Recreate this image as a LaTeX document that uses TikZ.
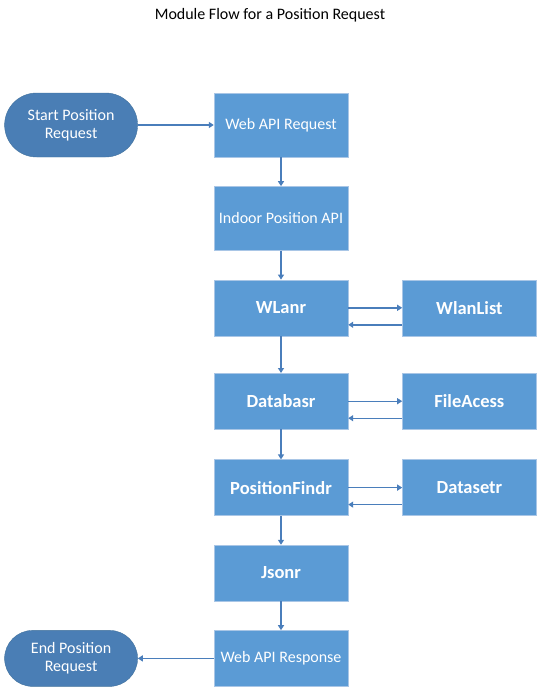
\documentclass[tikz,border=0pt]{standalone}
\usepackage{fontspec}
\setmainfont{Carlito}
\usetikzlibrary{arrows.meta,positioning}
\definecolor{boxfill}{HTML}{5B9BD5}
\definecolor{boxedge}{HTML}{A9C6E6}
\definecolor{termfill}{HTML}{4A7EB5}
\definecolor{termedge}{HTML}{41719C}
\definecolor{flowc}{HTML}{4A7EBB}

\begin{document}
\begin{tikzpicture}[
  x=1pt, y=1pt, node distance=29pt,
  mod/.style={draw=boxedge, fill=boxfill, text=white, minimum width=134pt, minimum height=56pt, align=center, font=\fontsize{16}{18}\selectfont, inner sep=2pt},
  tall/.style={mod, minimum height=64pt},
  strong/.style={mod, font=\fontsize{18.5}{21}\selectfont\bfseries},
  term/.style={draw=termedge, fill=termfill, text=white, minimum width=133pt, minimum height=56pt, rounded corners=28pt, align=center, font=\fontsize{16}{18}\selectfont},
  flow/.style={draw=flowc, line width=1.4pt, -{Triangle[width=6pt,length=5pt]}}]
  \useasboundingbox (0,0) rectangle (542,-693);
  \node[font=\fontsize{16}{18}\selectfont] (title) at (270,-15) {Module Flow for a Position Request};
  \node[tall] (webreq) at (281,-125) {Web API Request};
  \node[term, minimum height=64pt, rounded corners=32pt, left=76pt of webreq] (start) {Start Position\\Request};
  \node[tall, below=of webreq] (indoor) {Indoor Position API};
  \node[strong, below=of indoor] (wlanr) {WLanr};
  \node[strong, right=54pt of wlanr] (wlanlist) {WlanList};
  \node[strong, below=37pt of wlanr] (databasr) {Databasr};
  \node[strong, right=54pt of databasr] (fileacess) {FileAcess};
  \node[strong, below=30pt of databasr] (posfindr) {PositionFindr};
  \node[strong, right=54pt of posfindr] (datasetr) {Datasetr};
  \node[strong, below=of posfindr] (jsonr) {Jsonr};
  \node[mod, below=of jsonr] (webresp) {Web API Response};
  \node[term, left=76pt of webresp] (finish) {End Position\\Request};
  % main chain
  \draw[flow] (start) -- (webreq);
  \draw[flow] (webreq) -- (indoor);
  \draw[flow] (indoor) -- (wlanr);
  \draw[flow] (wlanr) -- (databasr);
  \draw[flow] (databasr) -- (posfindr);
  \draw[flow] (posfindr) -- (jsonr);
  \draw[flow] (jsonr) -- (webresp);
  \draw[flow] (webresp) -- (finish);
  % side calls and returns
  \draw[flow] (wlanr) -- (wlanlist);
  \draw[flow] ([yshift=-17pt]wlanlist.west) -- ([yshift=-17pt]wlanr.east);
  \draw[flow] (databasr) -- (fileacess);
  \draw[flow] ([yshift=-17pt]fileacess.west) -- ([yshift=-17pt]databasr.east);
  \draw[flow] (posfindr) -- (datasetr);
  \draw[flow] ([yshift=-17pt]datasetr.west) -- ([yshift=-17pt]posfindr.east);
\end{tikzpicture}
\end{document}
